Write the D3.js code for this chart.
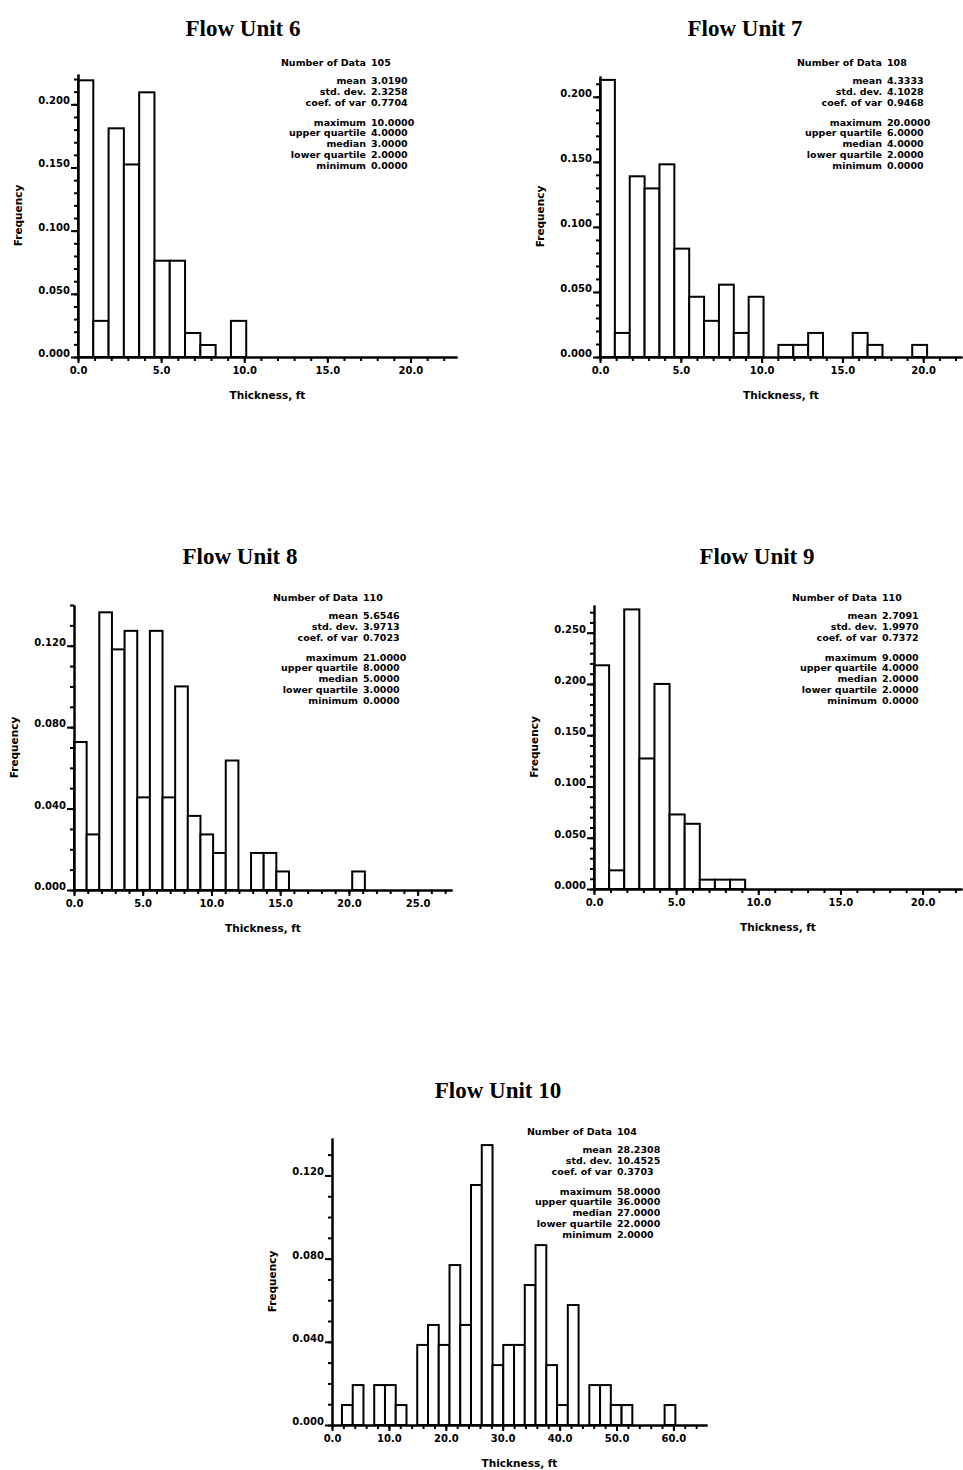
<!DOCTYPE html>
<html>
<head>
<meta charset="utf-8">
<script src="https://cdn.jsdelivr.net/npm/d3@7"></script>
<style>
  body { margin: 0; background: #fff; }
  svg text { font-family: "DejaVu Sans", sans-serif; font-weight: bold; fill: #000; }
  .title { font-family: "Liberation Serif", "Times New Roman", serif; font-size: 23px; }
  .axis path, .axis line { stroke: #000; stroke-width: 2px; }
  .axis text { font-size: 10px; }
  .bar { fill: #fff; stroke: #000; stroke-width: 2px; }
</style>
</head>
<body>
<svg id="chart" width="963" height="1470"></svg>
<script>
// ---- data ----
var titles = ["Flow Unit 6", "Flow Unit 7", "Flow Unit 8", "Flow Unit 9", "Flow Unit 10"];

// first bin edge and class width (ft)
var binStart = [0, 0, 0, 0, 1.75];
var binWidth = [0.92, 0.92, 0.92, 0.92, 1.89];

var freq6 = [0.2190, 0.0286, 0.1810, 0.1524, 0.2095, 0.0762, 0.0762, 0.0190, 0.0095, 0, 0.0286];
var freq7 = [0.2130, 0.0185, 0.1389, 0.1296, 0.1481, 0.0833, 0.0463, 0.0278, 0.0556, 0.0185, 0.0463,
             0, 0.0093, 0.0093, 0.0185, 0, 0, 0.0185, 0.0093, 0, 0, 0.0093];
var freq8 = [0.0727, 0.0273, 0.1364, 0.1182, 0.1273, 0.0455, 0.1273, 0.0455, 0.1000, 0.0364, 0.0273,
             0.0182, 0.0636, 0, 0.0182, 0.0182, 0.0091, 0, 0, 0, 0, 0, 0.0091];
var freq9 = [0.2182, 0.0182, 0.2727, 0.1273, 0.2000, 0.0727, 0.0636, 0.0091, 0.0091, 0.0091];
var freq10 = [0.0096, 0.0192, 0, 0.0192, 0.0192, 0.0096, 0, 0.0385, 0.0481, 0.0385, 0.0769, 0.0481,
              0.1154, 0.1346, 0.0288, 0.0385, 0.0385, 0.0673, 0.0865, 0.0288, 0.0096, 0.0577, 0,
              0.0192, 0.0192, 0.0096, 0.0096, 0, 0, 0, 0.0096];

// axis ranges
var xMax = [22.8, 22.4, 27.5, 22.4, 65.9];
var yMax = [0.224, 0.216, 0.14, 0.277, 0.138];

// labelled ticks
var xTicks6 = [0, 5, 10, 15, 20];
var xTicks8 = [0, 5, 10, 15, 20, 25];
var xTicks10 = [0, 10, 20, 30, 40, 50, 60];
var yTicks05 = [0, 0.05, 0.10, 0.15, 0.20];
var yTicks9 = [0, 0.05, 0.10, 0.15, 0.20, 0.25];
var yTicks04 = [0, 0.04, 0.08, 0.12];
var xMinorStep = [1, 1, 1, 1, 2];

// summary statistics
var statLabels = ["Number of Data", "mean", "std. dev.", "coef. of var", "maximum",
                  "upper quartile", "median", "lower quartile", "minimum"];
var stats6 = ["105", "3.0190", "2.3258", "0.7704", "10.0000", "4.0000", "3.0000", "2.0000", "0.0000"];
var stats7 = ["108", "4.3333", "4.1028", "0.9468", "20.0000", "6.0000", "4.0000", "2.0000", "0.0000"];
var stats8 = ["110", "5.6546", "3.9713", "0.7023", "21.0000", "8.0000", "5.0000", "3.0000", "0.0000"];
var stats9 = ["110", "2.7091", "1.9970", "0.7372", "9.0000", "4.0000", "2.0000", "2.0000", "0.0000"];
var stats10 = ["104", "28.2308", "10.4525", "0.3703", "58.0000", "36.0000", "27.0000", "22.0000", "2.0000"];

// ---- layout (pixels) ----
var panels = [
  {left: 78,  top: 74,   w: 379, h: 283, titleX: 243, titleY: 36,   statX: 366, statY: 63,   freq: freq6,  xt: xTicks6,  yt: yTicks05, stats: stats6},
  {left: 600, top: 76,   w: 362, h: 281, titleX: 745, titleY: 36,   statX: 882, statY: 63,   freq: freq7,  xt: xTicks6,  yt: yTicks05, stats: stats7},
  {left: 74,  top: 605,  w: 378, h: 285, titleX: 240, titleY: 564,  statX: 358, statY: 598,  freq: freq8,  xt: xTicks8,  yt: yTicks04, stats: stats8},
  {left: 594, top: 605,  w: 368, h: 284, titleX: 757, titleY: 564,  statX: 877, statY: 598,  freq: freq9,  xt: xTicks6,  yt: yTicks9,  stats: stats9},
  {left: 332, top: 1138, w: 375, h: 287, titleX: 498, titleY: 1098, statX: 612, statY: 1132, freq: freq10, xt: xTicks10, yt: yTicks04, stats: stats10}
];
var rowOffsets = [0, 18, 29, 40, 60, 70, 81, 92, 103];

var svg = d3.select("#chart");

panels.forEach(function(p, k) {
    svg.append("text")
        .attr("class", "title")
        .attr("x", p.titleX).attr("y", p.titleY)
        .attr("text-anchor", "middle")
        .text(titles[k]);

    var g = svg.append("g").attr("transform", "translate(" + p.left + "," + p.top + ")");

    var x = d3.scaleLinear().domain([0, xMax[k]]).range([0, p.w]);
    var y = d3.scaleLinear().domain([0, yMax[k]]).range([p.h, 0]);

    // bars
    var bins = p.freq.map(function(f, i) {
        return {x0: binStart[k] + i * binWidth[k], x1: binStart[k] + (i + 1) * binWidth[k], f: f};
    }).filter(function(d) { return d.f > 0; });

    g.selectAll(".bar").data(bins).enter()
        .append("rect")
        .attr("class", "bar")
        .attr("x", function(d) { return x(d.x0); })
        .attr("width", function(d) { return x(d.x1) - x(d.x0); })
        .attr("y", function(d) { return y(d.f); })
        .attr("height", function(d) { return p.h - y(d.f); });

    // minor ticks
    var xMinor = d3.range(0, xMax[k], xMinorStep[k]);
    var yMinor = d3.range(0, yMax[k], 0.01);

    g.append("g").attr("class", "axis")
        .attr("transform", "translate(0," + p.h + ")")
        .call(d3.axisBottom(x).tickValues(xMinor).tickSize(4).tickSizeOuter(0).tickFormat(""));
    g.append("g").attr("class", "axis")
        .call(d3.axisLeft(y).tickValues(yMinor).tickSize(4).tickSizeOuter(0).tickFormat(""));

    // major ticks with labels
    g.append("g").attr("class", "axis")
        .attr("transform", "translate(0," + p.h + ")")
        .call(d3.axisBottom(x).tickValues(p.xt).tickSize(6).tickSizeOuter(0)
              .tickPadding(4).tickFormat(d3.format(".1f")));
    var ya = g.append("g").attr("class", "axis")
        .call(d3.axisLeft(y).tickValues(p.yt).tickSize(7).tickSizeOuter(0)
              .tickPadding(1).tickFormat(d3.format(".3f")));
    ya.selectAll("text").attr("dy", "-0.05em");

    // axis titles
    g.append("text")
        .attr("x", p.w / 2).attr("y", p.h + 42)
        .attr("text-anchor", "middle")
        .style("font-size", "10.5px")
        .text("Thickness, ft");
    g.append("text")
        .attr("transform", "translate(-56," + (p.h / 2) + ") rotate(-90)")
        .attr("text-anchor", "middle")
        .style("font-size", "10.5px")
        .text("Frequency");

    // statistics block
    var st = svg.append("g").style("font-size", "9.5px");
    statLabels.forEach(function(lab, i) {
        st.append("text")
            .attr("x", p.statX).attr("y", p.statY + rowOffsets[i])
            .attr("dy", "0.35em")
            .attr("text-anchor", "end")
            .text(lab);
        st.append("text")
            .attr("x", p.statX + 5).attr("y", p.statY + rowOffsets[i])
            .attr("dy", "0.35em")
            .text(p.stats[i]);
    });
});
</script>
</body>
</html>
